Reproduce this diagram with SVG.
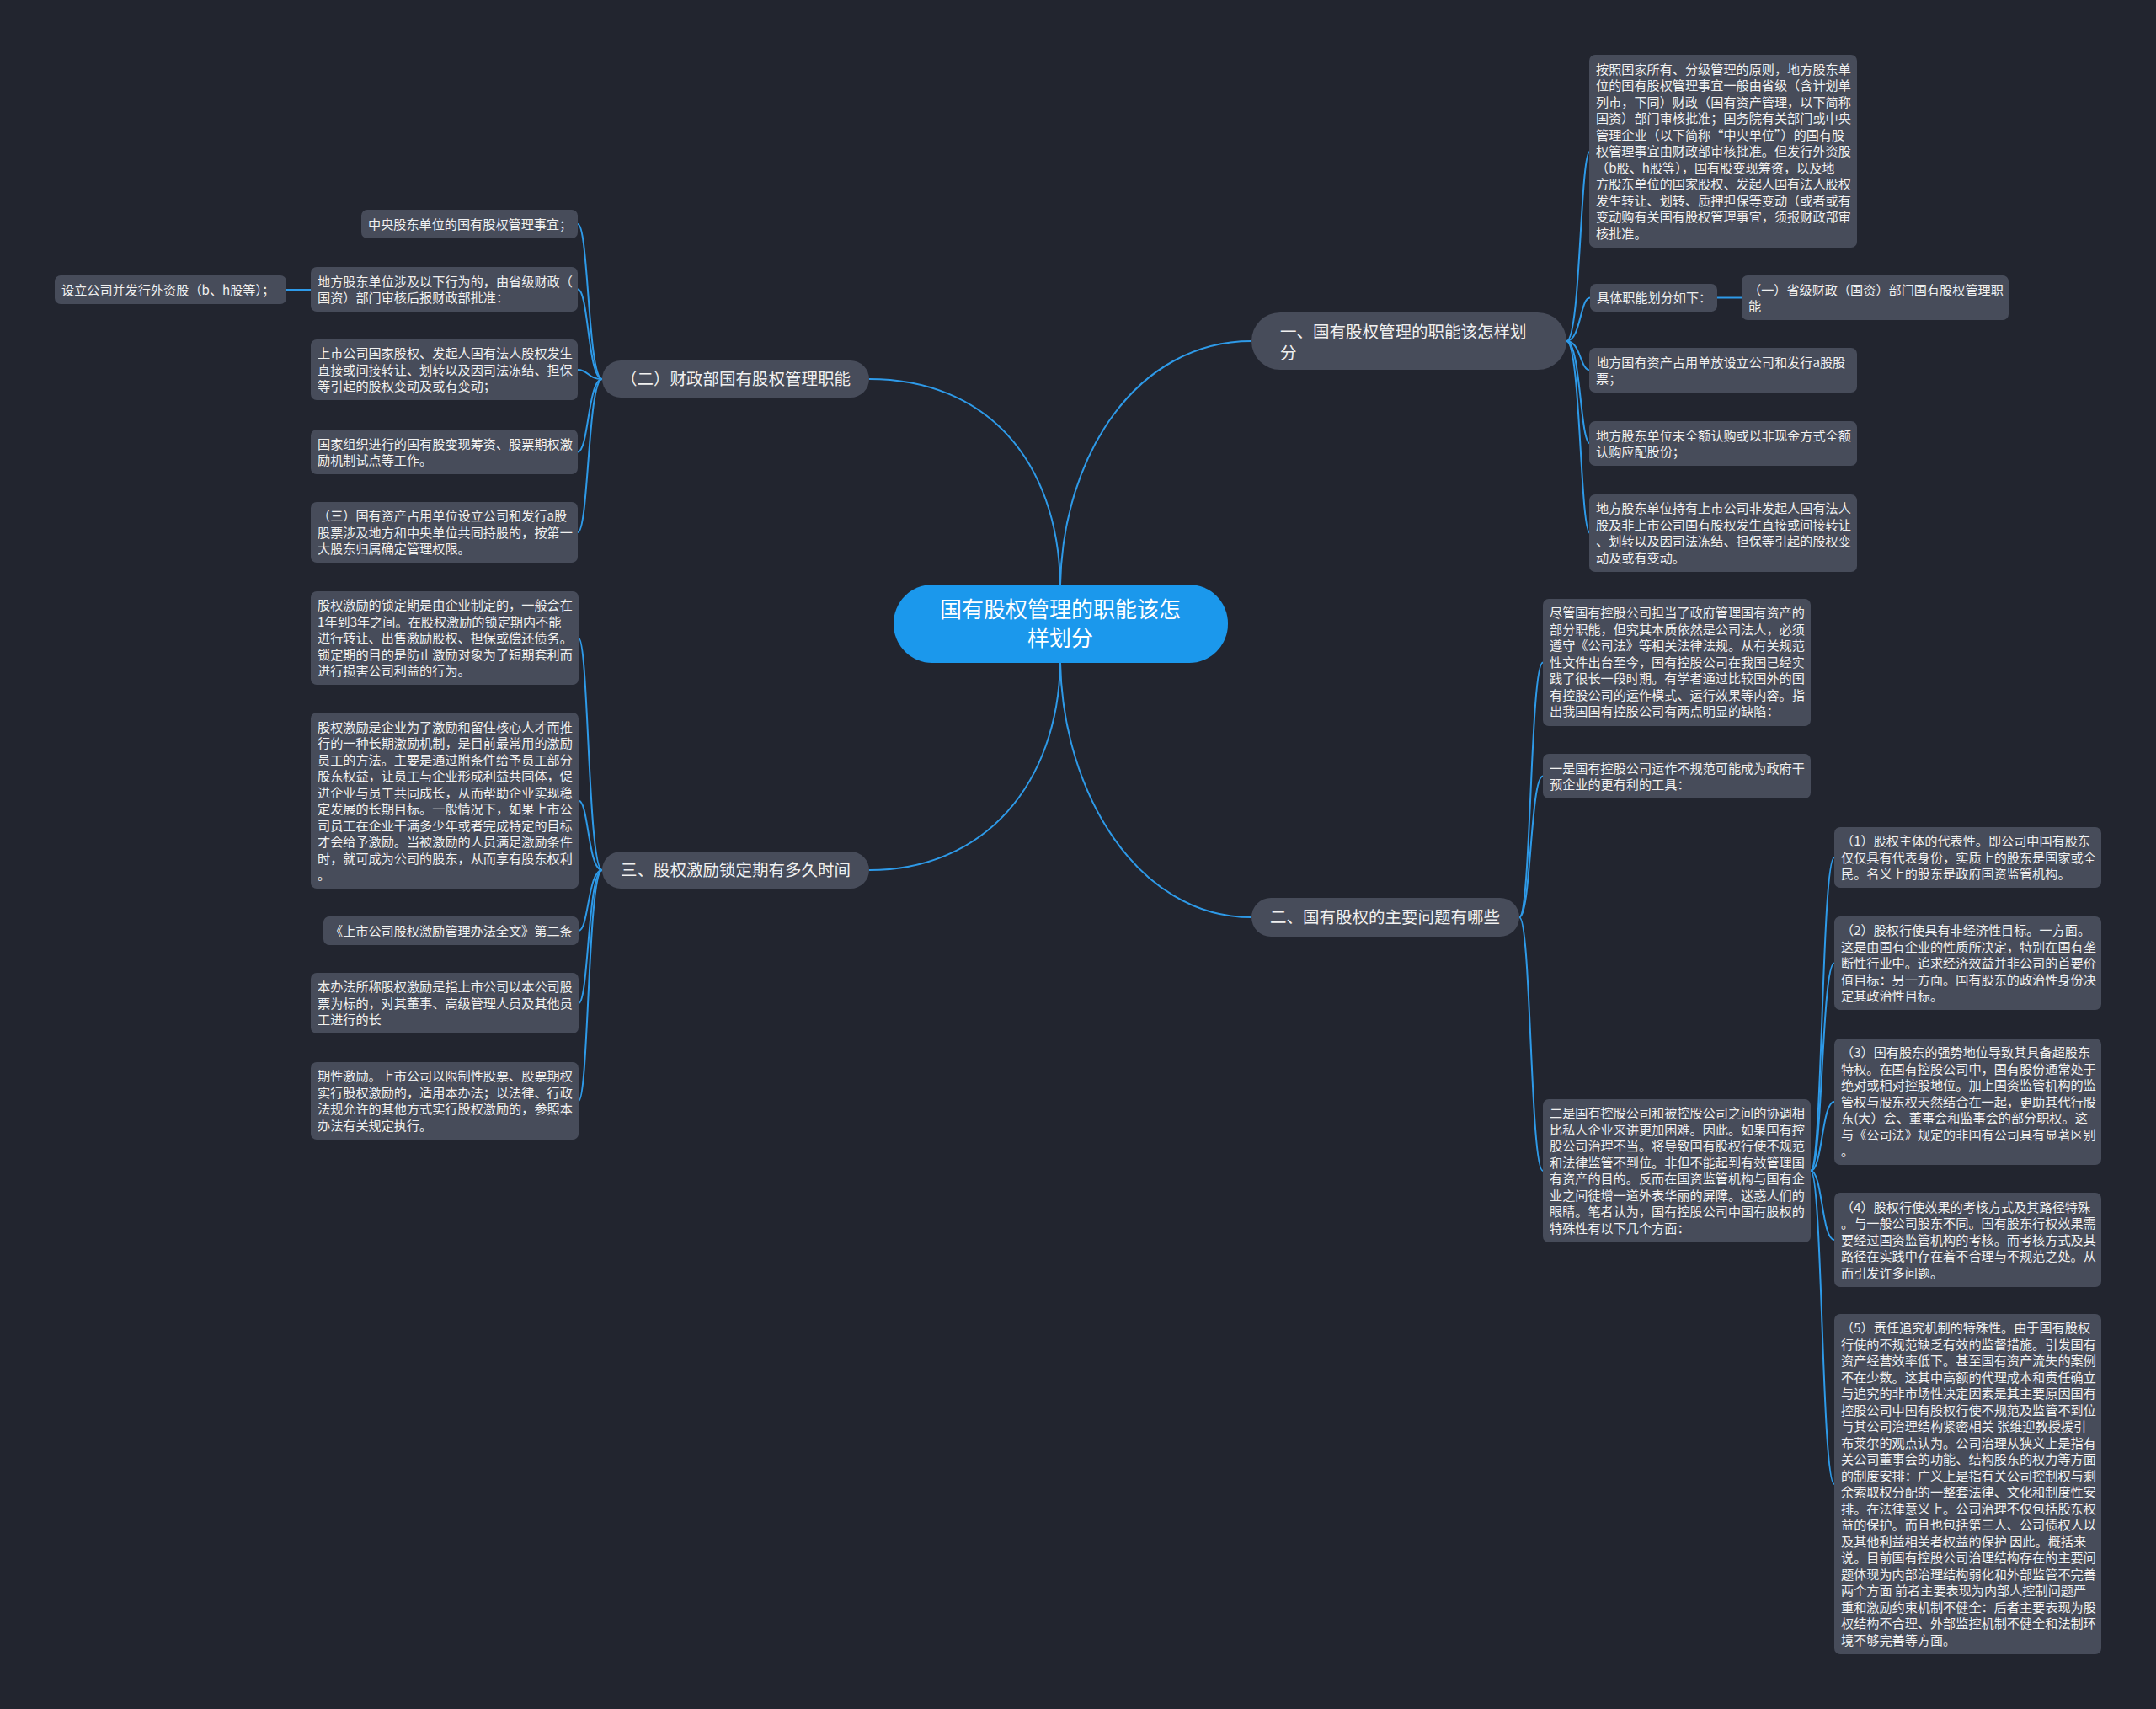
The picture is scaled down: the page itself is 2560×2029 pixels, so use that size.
<svg xmlns="http://www.w3.org/2000/svg" width="2560" height="2029" viewBox="0 0 2560 2029">
<style>
.lf{fill:#474c5a}
.br{fill:#474c5a}
.ct{fill:#1b98ec}
text{font-family:"Noto Sans CJK SC","Noto Sans",sans-serif;fill:#f0f0f0}
.t{font-size:15.15px}
.bt{font-size:19.5px}
.mt{font-size:26px;text-anchor:middle;fill:#ffffff}
.lk{fill:none;stroke:#2e9ae8;stroke-width:2}
</style>
<rect x="0" y="0" width="2560" height="2029" fill="#22252f"/>
<g id="connectors">
<path class="lk" d="M1259,694 C1262,540 1350,405 1486,405"/>
<path class="lk" d="M1259,694 C1256,545 1170,450 1032,450"/>
<path class="lk" d="M1259,787 C1262,940 1350,1089 1486,1089"/>
<path class="lk" d="M1259,787 C1256,930 1170,1033 1032,1033"/>
<path class="lk" d="M1860,405 C1877,405 1876,179.5 1888,179.5"/>
<path class="lk" d="M1860,405 C1877,405 1876,353.5 1888,353.5"/>
<path class="lk" d="M1860,405 C1877,405 1876,439.5 1888,439.5"/>
<path class="lk" d="M1860,405 C1877,405 1876,526.5 1888,526.5"/>
<path class="lk" d="M1860,405 C1877,405 1876,633 1888,633"/>
<path class="lk" d="M2039,353.5 L2068,353.5"/>
<path class="lk" d="M1804,1089 C1818,1089 1817,786.5 1832,786.5"/>
<path class="lk" d="M1804,1089 C1818,1089 1817,921.5 1832,921.5"/>
<path class="lk" d="M1804,1089 C1818,1089 1817,1390 1832,1390"/>
<path class="lk" d="M2150,1390 C2164,1390 2163,1018 2178,1018"/>
<path class="lk" d="M2150,1390 C2164,1390 2163,1143.5 2178,1143.5"/>
<path class="lk" d="M2150,1390 C2164,1390 2163,1308 2178,1308"/>
<path class="lk" d="M2150,1390 C2164,1390 2163,1472 2178,1472"/>
<path class="lk" d="M2150,1390 C2164,1390 2163,1762 2178,1762"/>
<path class="lk" d="M715,450 C698,450 699,266 686,266"/>
<path class="lk" d="M715,450 C698,450 699,343.5 686,343.5"/>
<path class="lk" d="M715,450 C698,450 699,439 686,439"/>
<path class="lk" d="M715,450 C698,450 699,536.5 686,536.5"/>
<path class="lk" d="M715,450 C698,450 699,632 686,632"/>
<path class="lk" d="M369,344 L340,344"/>
<path class="lk" d="M715,1033 C698,1033 699,757.5 687,757.5"/>
<path class="lk" d="M715,1033 C698,1033 699,950.5 687,950.5"/>
<path class="lk" d="M715,1033 C698,1033 699,1105 687,1105"/>
<path class="lk" d="M715,1033 C698,1033 699,1191 687,1191"/>
<path class="lk" d="M715,1033 C698,1033 699,1307 687,1307"/>
</g>
<g id="center">
<rect class="ct" x="1061" y="694" width="397" height="93" rx="46"/>
<text class="mt" x="1259" y="733">国有股权管理的职能该怎</text>
<text class="mt" x="1259" y="767">样划分</text>
</g>
<g id="b1">
<rect class="br" x="1486" y="371" width="374" height="68" rx="34"/>
<text class="bt" x="1520" y="401">一、国有股权管理的职能该怎样划</text>
<text class="bt" x="1520" y="426">分</text>
</g>
<g id="b2">
<rect class="br" x="1486" y="1066" width="318" height="46" rx="23"/>
<text class="bt" x="1508" y="1096">二、国有股权的主要问题有哪些</text>
</g>
<g id="b3">
<rect class="br" x="715" y="428" width="317" height="44" rx="22"/>
<text class="bt" x="737" y="457">（二）财政部国有股权管理职能</text>
</g>
<g id="b4">
<rect class="br" x="715" y="1011" width="317" height="44" rx="22"/>
<text class="bt" x="737" y="1040">三、股权激励锁定期有多久时间</text>
</g>
<g id="n1a">
<rect class="lf" x="1887" y="65" width="318" height="229" rx="7"/>
<text class="t" x="1895" y="87.5">按照国家所有、分级管理的原则，地方股东单</text>
<text class="t" x="1895" y="107">位的国有股权管理事宜一般由省级（含计划单</text>
<text class="t" x="1895" y="126.5">列市，下同）财政（国有资产管理，以下简称</text>
<text class="t" x="1895" y="146">国资）部门审核批准；国务院有关部门或中央</text>
<text class="t" x="1895" y="165.5">管理企业（以下简称“中央单位”）的国有股</text>
<text class="t" x="1895" y="185">权管理事宜由财政部审核批准。但发行外资股</text>
<text class="t" x="1895" y="204.5">（b股、h股等），国有股变现筹资，以及地</text>
<text class="t" x="1895" y="224">方股东单位的国家股权、发起人国有法人股权</text>
<text class="t" x="1895" y="243.5">发生转让、划转、质押担保等变动（或者或有</text>
<text class="t" x="1895" y="263">变动购有关国有股权管理事宜，须报财政部审</text>
<text class="t" x="1895" y="282.5">核批准。</text>
</g>
<g id="n1b">
<rect class="lf" x="1888" y="337" width="151" height="33" rx="7"/>
<text class="t" x="1896" y="359">具体职能划分如下：</text>
</g>
<g id="n1b1">
<rect class="lf" x="2068" y="327" width="317" height="53" rx="7"/>
<text class="t" x="2076" y="349.5">（一）省级财政（国资）部门国有股权管理职</text>
<text class="t" x="2076" y="369">能</text>
</g>
<g id="n1c">
<rect class="lf" x="1887" y="413" width="318" height="53" rx="7"/>
<text class="t" x="1895" y="435.5">地方国有资产占用单放设立公司和发行a股股</text>
<text class="t" x="1895" y="455">票；</text>
</g>
<g id="n1d">
<rect class="lf" x="1887" y="500" width="318" height="53" rx="7"/>
<text class="t" x="1895" y="522.5">地方股东单位未全额认购或以非现金方式全额</text>
<text class="t" x="1895" y="542">认购应配股份；</text>
</g>
<g id="n1e">
<rect class="lf" x="1887" y="587" width="318" height="92" rx="7"/>
<text class="t" x="1895" y="609.25">地方股东单位持有上市公司非发起人国有法人</text>
<text class="t" x="1895" y="628.75">股及非上市公司国有股权发生直接或间接转让</text>
<text class="t" x="1895" y="648.25">、划转以及因司法冻结、担保等引起的股权变</text>
<text class="t" x="1895" y="667.75">动及或有变动。</text>
</g>
<g id="n2a">
<rect class="lf" x="1832" y="711" width="318" height="151" rx="7"/>
<text class="t" x="1840" y="733">尽管国有控股公司担当了政府管理国有资产的</text>
<text class="t" x="1840" y="752.5">部分职能，但究其本质依然是公司法人，必须</text>
<text class="t" x="1840" y="772">遵守《公司法》等相关法律法规。从有关规范</text>
<text class="t" x="1840" y="791.5">性文件出台至今，国有控股公司在我国已经实</text>
<text class="t" x="1840" y="811">践了很长一段时期。有学者通过比较国外的国</text>
<text class="t" x="1840" y="830.5">有控股公司的运作模式、运行效果等内容。指</text>
<text class="t" x="1840" y="850">出我国国有控股公司有两点明显的缺陷：</text>
</g>
<g id="n2b">
<rect class="lf" x="1832" y="895" width="318" height="53" rx="7"/>
<text class="t" x="1840" y="917.5">一是国有控股公司运作不规范可能成为政府干</text>
<text class="t" x="1840" y="937">预企业的更有利的工具：</text>
</g>
<g id="n2c">
<rect class="lf" x="1832" y="1305" width="318" height="170" rx="7"/>
<text class="t" x="1840" y="1327.25">二是国有控股公司和被控股公司之间的协调相</text>
<text class="t" x="1840" y="1346.75">比私人企业来讲更加困难。因此。如果国有控</text>
<text class="t" x="1840" y="1366.25">股公司治理不当。将导致国有股权行使不规范</text>
<text class="t" x="1840" y="1385.75">和法律监管不到位。非但不能起到有效管理国</text>
<text class="t" x="1840" y="1405.25">有资产的目的。反而在国资监管机构与国有企</text>
<text class="t" x="1840" y="1424.75">业之间徒增一道外表华丽的屏障。迷惑人们的</text>
<text class="t" x="1840" y="1444.25">眼睛。笔者认为，国有控股公司中国有股权的</text>
<text class="t" x="1840" y="1463.75">特殊性有以下几个方面：</text>
</g>
<g id="n2c1">
<rect class="lf" x="2178" y="982" width="317" height="72" rx="7"/>
<text class="t" x="2186" y="1004">（1）股权主体的代表性。即公司中国有股东</text>
<text class="t" x="2186" y="1023.5">仅仅具有代表身份，实质上的股东是国家或全</text>
<text class="t" x="2186" y="1043">民。名义上的股东是政府国资监管机构。</text>
</g>
<g id="n2c2">
<rect class="lf" x="2178" y="1088" width="317" height="111" rx="7"/>
<text class="t" x="2186" y="1110">（2）股权行使具有非经济性目标。一方面。</text>
<text class="t" x="2186" y="1129.5">这是由国有企业的性质所决定，特别在国有垄</text>
<text class="t" x="2186" y="1149">断性行业中。追求经济效益并非公司的首要价</text>
<text class="t" x="2186" y="1168.5">值目标：另一方面。国有股东的政治性身份决</text>
<text class="t" x="2186" y="1188">定其政治性目标。</text>
</g>
<g id="n2c3">
<rect class="lf" x="2178" y="1233" width="317" height="150" rx="7"/>
<text class="t" x="2186" y="1255">（3）国有股东的强势地位导致其具备超股东</text>
<text class="t" x="2186" y="1274.5">特权。在国有控股公司中，国有股份通常处于</text>
<text class="t" x="2186" y="1294">绝对或相对控股地位。加上国资监管机构的监</text>
<text class="t" x="2186" y="1313.5">管权与股东权天然结合在一起，更助其代行股</text>
<text class="t" x="2186" y="1333">东(大）会、董事会和监事会的部分职权。这</text>
<text class="t" x="2186" y="1352.5">与《公司法》规定的非国有公司具有显著区别</text>
<text class="t" x="2186" y="1372">。</text>
</g>
<g id="n2c4">
<rect class="lf" x="2178" y="1416" width="317" height="112" rx="7"/>
<text class="t" x="2186" y="1438.5">（4）股权行使效果的考核方式及其路径特殊</text>
<text class="t" x="2186" y="1458">。与一般公司股东不同。国有股东行权效果需</text>
<text class="t" x="2186" y="1477.5">要经过国资监管机构的考核。而考核方式及其</text>
<text class="t" x="2186" y="1497">路径在实践中存在着不合理与不规范之处。从</text>
<text class="t" x="2186" y="1516.5">而引发许多问题。</text>
</g>
<g id="n2c5">
<rect class="lf" x="2178" y="1560" width="317" height="404" rx="7"/>
<text class="t" x="2186" y="1582.25">（5）责任追究机制的特殊性。由于国有股权</text>
<text class="t" x="2186" y="1601.75">行使的不规范缺乏有效的监督措施。引发国有</text>
<text class="t" x="2186" y="1621.25">资产经营效率低下。甚至国有资产流失的案例</text>
<text class="t" x="2186" y="1640.75">不在少数。这其中高额的代理成本和责任确立</text>
<text class="t" x="2186" y="1660.25">与追究的非市场性决定因素是其主要原因国有</text>
<text class="t" x="2186" y="1679.75">控股公司中国有股权行使不规范及监管不到位</text>
<text class="t" x="2186" y="1699.25">与其公司治理结构紧密相关 张维迎教授援引</text>
<text class="t" x="2186" y="1718.75">布莱尔的观点认为。公司治理从狭义上是指有</text>
<text class="t" x="2186" y="1738.25">关公司董事会的功能、结构股东的权力等方面</text>
<text class="t" x="2186" y="1757.75">的制度安排：广义上是指有关公司控制权与剩</text>
<text class="t" x="2186" y="1777.25">余索取权分配的一整套法律、文化和制度性安</text>
<text class="t" x="2186" y="1796.75">排。在法律意义上。公司治理不仅包括股东权</text>
<text class="t" x="2186" y="1816.25">益的保护。而且也包括第三人、公司债权人以</text>
<text class="t" x="2186" y="1835.75">及其他利益相关者权益的保护 因此。概括来</text>
<text class="t" x="2186" y="1855.25">说。目前国有控股公司治理结构存在的主要问</text>
<text class="t" x="2186" y="1874.75">题体现为内部治理结构弱化和外部监管不完善</text>
<text class="t" x="2186" y="1894.25">两个方面 前者主要表现为内部人控制问题严</text>
<text class="t" x="2186" y="1913.75">重和激励约束机制不健全：后者主要表现为股</text>
<text class="t" x="2186" y="1933.25">权结构不合理、外部监控机制不健全和法制环</text>
<text class="t" x="2186" y="1952.75">境不够完善等方面。</text>
</g>
<g id="n3a">
<rect class="lf" x="429" y="249" width="257" height="34" rx="7"/>
<text class="t" x="437" y="271.5">中央股东单位的国有股权管理事宜；</text>
</g>
<g id="n3b">
<rect class="lf" x="369" y="317" width="317" height="53" rx="7"/>
<text class="t" x="377" y="339.5">地方股东单位涉及以下行为的，由省级财政（</text>
<text class="t" x="377" y="359">国资）部门审核后报财政部批准：</text>
</g>
<g id="n3b1">
<rect class="lf" x="65" y="327" width="275" height="34" rx="7"/>
<text class="t" x="73" y="349.5">设立公司并发行外资股（b、h股等）；</text>
</g>
<g id="n3c">
<rect class="lf" x="369" y="403" width="317" height="72" rx="7"/>
<text class="t" x="377" y="425">上市公司国家股权、发起人国有法人股权发生</text>
<text class="t" x="377" y="444.5">直接或间接转让、划转以及因司法冻结、担保</text>
<text class="t" x="377" y="464">等引起的股权变动及或有变动；</text>
</g>
<g id="n3d">
<rect class="lf" x="369" y="510" width="317" height="53" rx="7"/>
<text class="t" x="377" y="532.5">国家组织进行的国有股变现筹资、股票期权激</text>
<text class="t" x="377" y="552">励机制试点等工作。</text>
</g>
<g id="n3e">
<rect class="lf" x="369" y="596" width="317" height="72" rx="7"/>
<text class="t" x="377" y="618">（三）国有资产占用单位设立公司和发行a股</text>
<text class="t" x="377" y="637.5">股票涉及地方和中央单位共同持股的，按第一</text>
<text class="t" x="377" y="657">大股东归属确定管理权限。</text>
</g>
<g id="n4a">
<rect class="lf" x="369" y="702" width="318" height="111" rx="7"/>
<text class="t" x="377" y="724">股权激励的锁定期是由企业制定的，一般会在</text>
<text class="t" x="377" y="743.5">1年到3年之间。在股权激励的锁定期内不能</text>
<text class="t" x="377" y="763">进行转让、出售激励股权、担保或偿还债务。</text>
<text class="t" x="377" y="782.5">锁定期的目的是防止激励对象为了短期套利而</text>
<text class="t" x="377" y="802">进行损害公司利益的行为。</text>
</g>
<g id="n4b">
<rect class="lf" x="369" y="846" width="318" height="209" rx="7"/>
<text class="t" x="377" y="868.75">股权激励是企业为了激励和留住核心人才而推</text>
<text class="t" x="377" y="888.25">行的一种长期激励机制，是目前最常用的激励</text>
<text class="t" x="377" y="907.75">员工的方法。主要是通过附条件给予员工部分</text>
<text class="t" x="377" y="927.25">股东权益，让员工与企业形成利益共同体，促</text>
<text class="t" x="377" y="946.75">进企业与员工共同成长，从而帮助企业实现稳</text>
<text class="t" x="377" y="966.25">定发展的长期目标。一般情况下，如果上市公</text>
<text class="t" x="377" y="985.75">司员工在企业干满多少年或者完成特定的目标</text>
<text class="t" x="377" y="1005.25">才会给予激励。当被激励的人员满足激励条件</text>
<text class="t" x="377" y="1024.75">时，就可成为公司的股东，从而享有股东权利</text>
<text class="t" x="377" y="1044.25">。</text>
</g>
<g id="n4c">
<rect class="lf" x="384" y="1088" width="303" height="34" rx="7"/>
<text class="t" x="392" y="1110.5">《上市公司股权激励管理办法全文》第二条</text>
</g>
<g id="n4d">
<rect class="lf" x="369" y="1155" width="318" height="72" rx="7"/>
<text class="t" x="377" y="1177">本办法所称股权激励是指上市公司以本公司股</text>
<text class="t" x="377" y="1196.5">票为标的，对其董事、高级管理人员及其他员</text>
<text class="t" x="377" y="1216">工进行的长</text>
</g>
<g id="n4e">
<rect class="lf" x="369" y="1261" width="318" height="92" rx="7"/>
<text class="t" x="377" y="1283.25">期性激励。上市公司以限制性股票、股票期权</text>
<text class="t" x="377" y="1302.75">实行股权激励的，适用本办法；以法律、行政</text>
<text class="t" x="377" y="1322.25">法规允许的其他方式实行股权激励的，参照本</text>
<text class="t" x="377" y="1341.75">办法有关规定执行。</text>
</g>
</svg>
